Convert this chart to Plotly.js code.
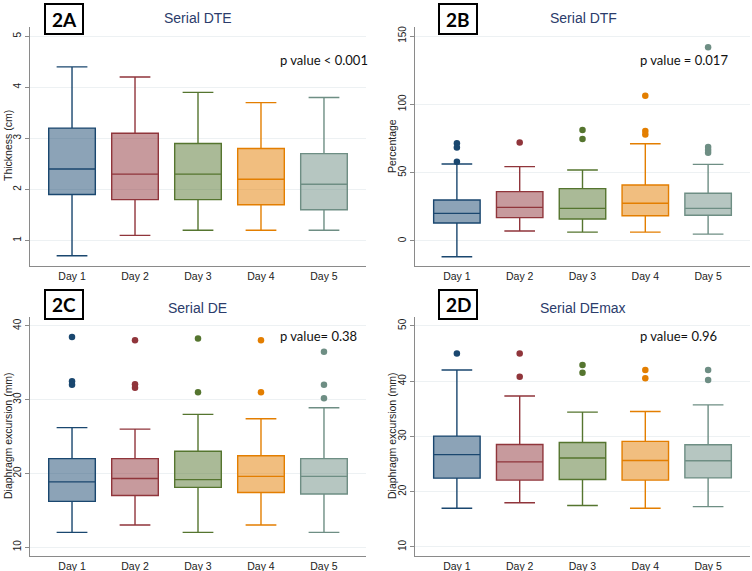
<!DOCTYPE html>
<html><head><meta charset="utf-8">
<script src="https://cdn.plot.ly/plotly-3.0.1.min.js"></script>
<style>html,body{margin:0;padding:0;background:#fff}</style>
</head><body><div id="chart" style="width:752px;height:571px"></div>
<script>
const days = ['Day 1','Day 2','Day 3','Day 4','Day 5'];
const lineColors = ['#1a476f','#90353b','#55752f','#e37e00','#6e8e84'];
const fillColors = ['rgba(26,71,111,0.5)','rgba(144,53,59,0.5)','rgba(85,117,47,0.5)','rgba(227,126,0,0.5)','rgba(110,142,132,0.5)'];

// Panel 2A: Serial DTE (cm)
const dteLow = [0.7, 1.1, 1.2, 1.2, 1.2];
const dteQ1 = [1.9, 1.8, 1.8, 1.7, 1.6];
const dteMedian = [2.4, 2.3, 2.3, 2.2, 2.1];
const dteQ3 = [3.2, 3.1, 2.9, 2.8, 2.7];
const dteHigh = [4.4, 4.2, 3.9, 3.7, 3.8];
const dteOutliers = [[], [], [], [], []];

// Panel 2B: Serial DTF (%)
const dtfLow = [-11.5, 7.3, 6.5, 6.5, 5];
const dtfQ1 = [13.2, 17.1, 16.1, 18.5, 18.8];
const dtfMedian = [20.2, 24.6, 23.9, 27.6, 23.9];
const dtfQ3 = [30, 36.1, 38.3, 41, 34.9];
const dtfHigh = [56.3, 54.4, 52, 71.2, 56.1];
const dtfOutliers = [[71.5, 68.5, 58], [72], [81.2, 74.6], [106.3, 80.5, 78], [141.7, 68.8, 66.5, 64.5]];

// Panel 2C: Serial DE (mm)
const deLow = [12, 13, 12, 13, 12];
const deQ1 = [16.2, 17, 18.1, 17.4, 17.2];
const deMedian = [18.85, 19.3, 19.15, 19.6, 19.6];
const deQ3 = [22, 22, 23, 22.4, 22];
const deHigh = [26.2, 26, 28, 27.4, 28.9];
const deOutliers = [[38.5, 32.5, 32], [38.05, 32.1, 31.6], [38.3, 31], [38.05, 31], [36.5, 32, 30.2]];

// Panel 2D: Serial DEmax (mm)
const demaxLow = [17, 18, 17.5, 17, 17.3];
const demaxQ1 = [22.45, 22.1, 22.2, 22.1, 22.5];
const demaxMedian = [26.7, 25.4, 26.1, 25.65, 25.6];
const demaxQ3 = [30.06, 28.55, 28.9, 29.1, 28.5];
const demaxHigh = [42, 37.3, 34.4, 34.5, 35.7];
const demaxOutliers = [[45], [45, 40.8], [42.9, 41.5], [42, 40.5], [42, 40.2]];

const panels = [
  {low: dteLow, q1: dteQ1, med: dteMedian, q3: dteQ3, high: dteHigh, out: dteOutliers, xa: 'x', ya: 'y'},
  {low: dtfLow, q1: dtfQ1, med: dtfMedian, q3: dtfQ3, high: dtfHigh, out: dtfOutliers, xa: 'x2', ya: 'y2'},
  {low: deLow, q1: deQ1, med: deMedian, q3: deQ3, high: deHigh, out: deOutliers, xa: 'x3', ya: 'y3'},
  {low: demaxLow, q1: demaxQ1, med: demaxMedian, q3: demaxQ3, high: demaxHigh, out: demaxOutliers, xa: 'x4', ya: 'y4'}
];

const traces = [];
panels.forEach(p => {
  days.forEach((d, i) => {
    traces.push({
      type: 'box', x: [d], q1: [p.q1[i]], median: [p.med[i]], q3: [p.q3[i]],
      lowerfence: [p.low[i]], upperfence: [p.high[i]],
      xaxis: p.xa, yaxis: p.ya, width: 0.74, whiskerwidth: 0.66,
      fillcolor: fillColors[i], line: {color: lineColors[i], width: 1.4},
      showlegend: false, hoverinfo: 'none'
    });
    if (p.out[i].length) {
      traces.push({
        type: 'scatter', mode: 'markers', x: p.out[i].map(() => d), y: p.out[i],
        xaxis: p.xa, yaxis: p.ya, marker: {color: lineColors[i], size: 6.5},
        showlegend: false, hoverinfo: 'none'
      });
    }
  });
});

const W = 752, H = 571;
const px = v => v / W, py = v => 1 - v / H;
const SANS = 'Liberation Sans';

function xax(domain, anchor) {
  return {domain: domain, anchor: anchor, type: 'category', range: [-0.667, 4.667],
    showline: true, linecolor: '#8a8a8a', linewidth: 1, ticks: '', showgrid: false,
    zeroline: false, tickfont: {family: SANS, size: 10.5, color: '#222'}, fixedrange: true};
}
function yax(domain, anchor, range, tickvals) {
  return {domain: domain, anchor: anchor, range: range, tickvals: tickvals, tickangle: -90,
    showline: true, linecolor: '#8a8a8a', linewidth: 1, ticks: 'outside', ticklen: 4, tickcolor: '#8a8a8a',
    showgrid: true, gridcolor: '#edf1f3', gridwidth: 1, zeroline: false,
    tickfont: {family: SANS, size: 10, color: '#222'}, fixedrange: true};
}

const colL = [px(30), px(366)], colR = [px(415), px(750)];
const rowT = [py(266), py(27)], rowB = [py(556), py(317)];

const layout = {
  width: W, height: H, margin: {l: 0, r: 0, t: 0, b: 0},
  font: {family: SANS},
  paper_bgcolor: '#fff', plot_bgcolor: '#fff', boxmode: 'overlay', showlegend: false,
  xaxis: xax(colL, 'y'), yaxis: yax(rowT, 'x', [0.5, 5.18], [1,2,3,4,5]),
  xaxis2: xax(colR, 'y2'), yaxis2: yax(rowT, 'x2', [-18.3, 156.6], [0,50,100,150]),
  xaxis3: xax(colL, 'y3'), yaxis3: yax(rowB, 'x3', [8.8, 41.2], [10,20,30,40]),
  xaxis4: xax(colR, 'y4'), yaxis4: yax(rowB, 'x4', [8.37, 51.6], [10,20,30,40,50]),
  shapes: [],
  annotations: []
};

const labels = [
  {t: '2A', x0: 45, x1: 83, y0: 4, y1: 34},
  {t: '2B', x0: 439, x1: 477, y0: 4, y1: 34},
  {t: '2C', x0: 45, x1: 83, y0: 290, y1: 319},
  {t: '2D', x0: 439, x1: 477, y0: 290, y1: 319}
];
labels.forEach(l => {
  layout.shapes.push({type: 'rect', xref: 'paper', yref: 'paper', x0: px(l.x0), x1: px(l.x1), y0: py(l.y1), y1: py(l.y0),
    line: {color: '#000', width: 2}, fillcolor: '#fff'});
  layout.annotations.push({xref: 'paper', yref: 'paper', x: px((l.x0 + l.x1) / 2), y: py((l.y0 + l.y1) / 2),
    xanchor: 'center', yanchor: 'middle', showarrow: false, text: '<b>' + l.t + '</b>',
    font: {family: 'Lato', size: 19, color: '#000'}});
});

const titles = [
  {t: 'Serial DTE', x: 198, y: 18}, {t: 'Serial DTF', x: 583, y: 18},
  {t: 'Serial DE', x: 197, y: 308}, {t: 'Serial DEmax', x: 583, y: 308}
];
titles.forEach(t => layout.annotations.push({xref: 'paper', yref: 'paper', x: px(t.x), y: py(t.y),
  xanchor: 'center', yanchor: 'middle', showarrow: false, text: t.t,
  font: {family: SANS, size: 14, color: '#2b3c6b'}}));

const pvals = [
  {t: 'p value < 0.001', x: 278, y: 60}, {t: 'p value = 0.017', x: 638, y: 60},
  {t: 'p value= 0.38', x: 278, y: 336}, {t: 'p value= 0.96', x: 638, y: 336}
];
pvals.forEach(t => layout.annotations.push({xref: 'paper', yref: 'paper', x: px(t.x), y: py(t.y),
  xanchor: 'left', yanchor: 'middle', showarrow: false, text: t.t,
  font: {family: 'Lato', size: 13, color: '#111'}}));

const ytitles = [
  {t: 'Thickness (cm)', x: 8, y: 146}, {t: 'Percentage', x: 392, y: 146},
  {t: 'Diaphragm excursion (mm)', x: 8, y: 436}, {t: 'Diaphragm excursion (mm)', x: 392, y: 436}
];
ytitles.forEach(t => layout.annotations.push({xref: 'paper', yref: 'paper', x: px(t.x), y: py(t.y),
  xanchor: 'center', yanchor: 'middle', showarrow: false, text: t.t, textangle: -90,
  font: {family: SANS, size: 10.5, color: '#222'}}));

Plotly.newPlot('chart', traces, layout, {displayModeBar: false, staticPlot: true});
</script></body></html>
